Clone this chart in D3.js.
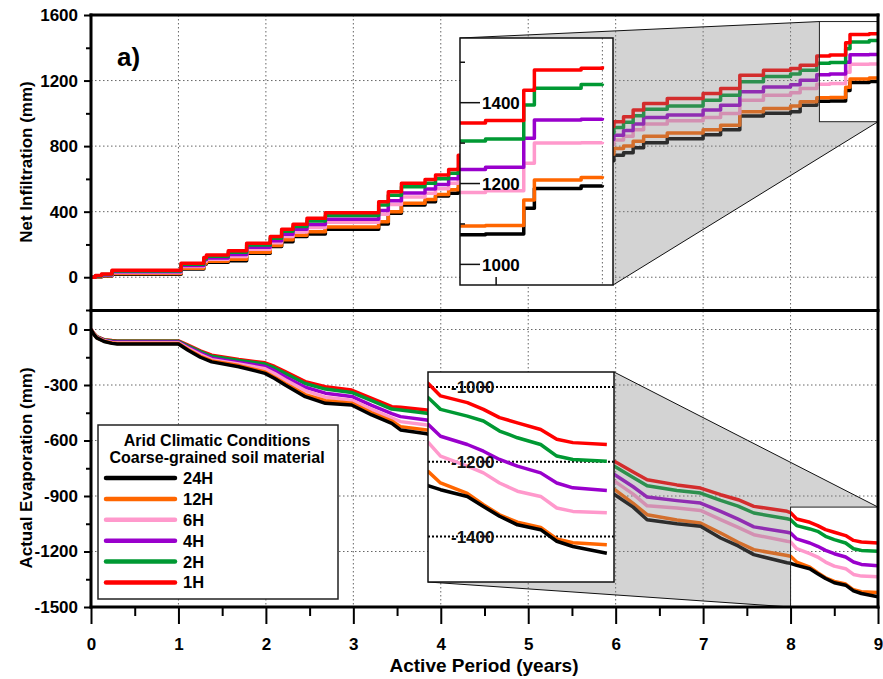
<!DOCTYPE html>
<html>
<head>
<meta charset="utf-8">
<script src="https://cdn.jsdelivr.net/npm/d3@7"></script>
<style>
  body { margin: 0; background: #fff; }
  text { font-family: "Liberation Sans", Arial, sans-serif; font-weight: bold; }
</style>
</head>
<body>
<div id="chart"></div>
<script>
// series, legend order
const seriesNames = ["24H", "12H", "6H", "4H", "2H", "1H"]
const seriesColors = ["#000000", "#ff6600", "#ff99cc", "#9900cc", "#009933", "#ff0000"]

// net infiltration (mm)
const infTime = [0, 0.05, 0.12, 0.24, 1.03, 1.29, 1.32, 1.57, 1.78, 2.05, 2.18, 2.31, 2.47, 2.68, 3.29, 3.40, 3.55, 3.82, 3.94, 4.09, 4.2, 4.5, 4.75, 5.0, 5.3, 5.6, 5.98, 6.09, 6.2, 6.32, 6.59, 7.0, 7.2, 7.42, 7.69, 8.0, 8.11, 8.3, 8.45, 8.63, 8.68, 8.9, 9.0]
const inf24H = [0, 2, 7, 18, 50, 80, 92, 101, 146, 187, 217, 248, 264, 292, 325, 390, 441, 461, 495, 512, 544, 580, 610, 640, 680, 710, 745, 760, 790, 820, 845, 870, 900, 983, 1000, 1010, 1050, 1073, 1075, 1139, 1188, 1194, 1196]
const inf12H = [0, 3, 9, 22, 55, 86, 98, 110, 152, 193, 228, 256, 278, 306, 338, 400, 452, 474, 504, 533, 574, 620, 650, 680, 715, 750, 786, 800, 830, 860, 880, 900, 928, 1009, 1030, 1045, 1070, 1095, 1096, 1159, 1209, 1215, 1218]
const inf6H = [0, 5, 12, 29, 65, 98, 110, 127, 170, 210, 248, 276, 303, 336, 384, 444, 490, 512, 540, 573, 605, 660, 705, 740, 775, 810, 837, 860, 900, 935, 955, 975, 999, 1080, 1110, 1125, 1152, 1178, 1182, 1250, 1300, 1301, 1303]
const inf4H = [0, 6, 14, 33, 71, 106, 118, 138, 183, 223, 262, 293, 322, 354, 407, 466, 514, 538, 566, 601, 635, 690, 735, 770, 805, 840, 867, 895, 935, 975, 990, 1020, 1050, 1131, 1160, 1175, 1202, 1235, 1240, 1312, 1357, 1359, 1362]
const inf2H = [0, 8, 17, 38, 79, 113, 128, 152, 197, 238, 280, 310, 343, 377, 440, 500, 552, 574, 601, 635, 666, 720, 765, 800, 840, 880, 914, 945, 985, 1025, 1045, 1080, 1111, 1192, 1225, 1240, 1263, 1305, 1310, 1394, 1436, 1445, 1447]
const inf1H = [0, 10, 20, 42, 85, 120, 136, 162, 207, 248, 292, 323, 360, 394, 461, 522, 573, 596, 623, 658, 745, 790, 830, 860, 890, 920, 948, 979, 1020, 1060, 1091, 1121, 1152, 1233, 1263, 1273, 1294, 1350, 1356, 1431, 1481, 1485, 1490]

// actual evaporation (mm)
const evTime = [0, 0.03, 0.065, 0.15, 0.24, 0.3, 1.0, 1.11, 1.25, 1.38, 1.69, 1.99, 2.1, 2.22, 2.45, 2.68, 2.98, 3.21, 3.44, 3.54, 3.84, 4.3, 4.8, 5.3, 5.99, 6.2, 6.36, 6.7, 6.97, 7.2, 7.4, 7.58, 7.96, 8.0, 8.07, 8.22, 8.31, 8.4, 8.5, 8.63, 8.72, 8.81, 9.0]
const ev24H = [0, -25, -45, -65, -75, -78, -78, -112, -150, -175, -201, -237, -265, -300, -363, -399, -408, -462, -507, -543, -564, -640, -720, -800, -893, -960, -1028, -1050, -1064, -1127, -1170, -1217, -1261, -1264, -1275, -1293, -1320, -1346, -1369, -1382, -1413, -1427, -1445]
const ev12H = [0, -24, -44, -63, -73, -76, -76, -108, -145, -170, -195, -230, -258, -292, -352, -385, -398, -450, -495, -525, -543, -615, -695, -775, -866, -940, -1001, -1030, -1046, -1100, -1150, -1190, -1222, -1226, -1257, -1285, -1315, -1342, -1362, -1376, -1407, -1417, -1422]
const ev6H = [0, -23, -42, -61, -70, -72, -72, -102, -136, -163, -187, -212, -238, -272, -330, -366, -382, -432, -478, -498, -516, -590, -665, -740, -821, -890, -953, -965, -978, -1028, -1070, -1109, -1145, -1148, -1185, -1212, -1230, -1257, -1279, -1293, -1324, -1333, -1337]
const ev4H = [0, -22, -41, -59, -66, -68, -68, -96, -128, -155, -178, -200, -224, -256, -312, -344, -362, -410, -455, -471, -489, -560, -635, -705, -785, -850, -906, -925, -938, -983, -1025, -1067, -1096, -1100, -1132, -1154, -1172, -1194, -1212, -1230, -1257, -1270, -1277]
const ev2H = [0, -21, -39, -57, -62, -64, -64, -89, -120, -145, -168, -187, -208, -237, -292, -322, -340, -385, -430, -435, -453, -520, -595, -665, -741, -800, -845, -870, -884, -924, -955, -992, -1023, -1028, -1060, -1078, -1091, -1118, -1136, -1154, -1185, -1194, -1199]
const ev1H = [0, -20, -38, -55, -60, -62, -62, -85, -115, -139, -162, -180, -200, -228, -282, -309, -327, -372, -417, -420, -435, -500, -570, -640, -714, -770, -812, -840, -857, -893, -920, -956, -983, -990, -1024, -1042, -1060, -1082, -1096, -1114, -1140, -1149, -1154]

// ticks
const xMajor = [0, 1, 2, 3, 4, 5, 6, 7, 8, 9]
const xMinor = [0.5, 1.5, 2.5, 3.5, 4.5, 5.5, 6.5, 7.5, 8.5]
const topMajor = [0, 400, 800, 1200, 1600]
const topMinor = [-200, 200, 600, 1000, 1400]
const botMajor = [-1500, -1200, -900, -600, -300, 0]
const botMinor = [-1350, -1050, -750, -450, -150]
const topInsetMajor = [1000, 1200, 1400]
const topInsetMinor = [1100, 1300, 1500]
const botInsetGrid = [-1000, -1200, -1400]

const infSeries = [inf24H, inf12H, inf6H, inf4H, inf2H, inf1H]
const evSeries = [ev24H, ev12H, ev6H, ev4H, ev2H, ev1H]

var width = 883,
  height = 679

var svg = d3.select("#chart").append("svg")
  .attr("width", width)
  .attr("height", height)

svg.append("rect")
  .attr("width", width)
  .attr("height", height)
  .attr("fill", "#fff")

var x = d3.scaleLinear().domain([0, 9]).range([91, 878])
var yTop = d3.scaleLinear().domain([-200, 1600]).range([310, 15])
var yBot = d3.scaleLinear().domain([-1500, 100]).range([607, 311])

// inset boxes and their zoom windows
var topBox = { x: 460, y: 38, w: 153, h: 247 }
var topInX = d3.scaleLinear().domain([8.33, 9.05]).range([topBox.x, topBox.x + topBox.w])
var topInY = d3.scaleLinear().domain([949, 1560]).range([topBox.y + topBox.h, topBox.y])

var botBox = { x: 428, y: 372, w: 186, h: 210 }
var botInX = d3.scaleLinear().domain([8.0, 9.04]).range([botBox.x, botBox.x + botBox.w])
var botInY = d3.scaleLinear().domain([-1522, -960]).range([botBox.y + botBox.h, botBox.y])

var defs = svg.append("defs")
function addClip(id, b) {
  defs.append("clipPath").attr("id", id)
    .append("rect")
    .attr("x", b.x).attr("y", b.y)
    .attr("width", b.w).attr("height", b.h)
}
addClip("clipTop", { x: 91, y: 15, w: 787, h: 295 })
addClip("clipBot", { x: 91, y: 311, w: 787, h: 296 })
addClip("clipTopInset", topBox)
addClip("clipBotInset", botBox)

function lineFor(xs, ys, times, curve) {
  return d3.line()
    .x((d, i) => xs(times[i]))
    .y(d => ys(d))
    .curve(curve)
}

function drawLines(g, xs, ys, times, list, curve, order, w) {
  order.forEach(k => {
    g.append("path")
      .datum(list[k])
      .attr("d", lineFor(xs, ys, times, curve))
      .attr("fill", "none")
      .attr("stroke", seriesColors[k])
      .attr("stroke-width", w)
      .attr("stroke-linejoin", "round")
  })
}

// grid
var grid = svg.append("g")
  .attr("stroke", "#666")
  .attr("stroke-width", 1)
  .attr("stroke-dasharray", "1.5,2.5")

xMajor.slice(1, 9).forEach(t => {
  grid.append("line").attr("x1", x(t)).attr("x2", x(t)).attr("y1", 15).attr("y2", 310)
  grid.append("line").attr("x1", x(t)).attr("x2", x(t)).attr("y1", 311).attr("y2", 607)
})
topMajor.slice(0, 4).forEach(v => {
  grid.append("line").attr("x1", 91).attr("x2", 878).attr("y1", yTop(v)).attr("y2", yTop(v))
})
botMajor.slice(1).forEach(v => {
  grid.append("line").attr("x1", 91).attr("x2", 878).attr("y1", yBot(v)).attr("y2", yBot(v))
})

// main series
var gTop = svg.append("g").attr("clip-path", "url(#clipTop)")
drawLines(gTop, x, yTop, infTime, infSeries, d3.curveStepAfter, [0, 1, 2, 3, 4, 5], 3.5)

var gBot = svg.append("g").attr("clip-path", "url(#clipBot)")
drawLines(gBot, x, yBot, evTime, evSeries, d3.curveLinear, [5, 4, 3, 2, 1, 0], 3.5)

// grey zoom funnels
function funnel(outer, src, links) {
  var p = d3.path()
  outer.forEach((pt, i) => i ? p.lineTo(pt[0], pt[1]) : p.moveTo(pt[0], pt[1]))
  p.closePath()
  p.rect(src.x, src.y, src.w, src.h)
  svg.append("path")
    .attr("d", p.toString())
    .attr("fill", "#808080")
    .attr("fill-opacity", 0.35)
    .attr("fill-rule", "evenodd")
  svg.append("rect")
    .attr("x", src.x).attr("y", src.y)
    .attr("width", src.w).attr("height", src.h)
    .attr("fill", "none")
    .attr("stroke", "#222")
    .attr("stroke-width", 1)
  links.forEach(l => {
    svg.append("line")
      .attr("x1", l[0][0]).attr("y1", l[0][1])
      .attr("x2", l[1][0]).attr("y2", l[1][1])
      .attr("stroke", "#111")
      .attr("stroke-width", 1)
  })
}

var tSrc = {
  x: x(topInX.domain()[0]),
  y: yTop(topInY.domain()[1]),
  w: 878 - x(topInX.domain()[0]),
  h: yTop(topInY.domain()[0]) - yTop(topInY.domain()[1])
}
funnel(
  [[topBox.x, topBox.y], [tSrc.x, tSrc.y], [878, tSrc.y], [878, tSrc.y + tSrc.h],
   [topBox.x + topBox.w, topBox.y + topBox.h], [topBox.x, topBox.y + topBox.h]],
  tSrc,
  [[[topBox.x, topBox.y], [tSrc.x, tSrc.y]],
   [[topBox.x + topBox.w, topBox.y + topBox.h], [878, tSrc.y + tSrc.h]]]
)

var bSrcTop = yBot(botInY.domain()[1])
var bSrc = {
  x: x(botInX.domain()[0]),
  y: bSrcTop,
  w: 878 - x(botInX.domain()[0]),
  h: 607 - bSrcTop
}
funnel(
  [[botBox.x, botBox.y], [botBox.x + botBox.w, botBox.y], [878, bSrc.y], [878, 607],
   [bSrc.x, 607], [botBox.x, botBox.y + botBox.h]],
  bSrc,
  [[[botBox.x + botBox.w, botBox.y], [878, bSrc.y]],
   [[botBox.x, botBox.y + botBox.h], [bSrc.x, 607]]]
)

// top inset
svg.append("rect")
  .attr("x", topBox.x).attr("y", topBox.y)
  .attr("width", topBox.w).attr("height", topBox.h)
  .attr("fill", "#fff")
svg.append("line")
  .attr("x1", topInX(9)).attr("x2", topInX(9))
  .attr("y1", topBox.y).attr("y2", topBox.y + topBox.h)
  .attr("stroke", "#666").attr("stroke-dasharray", "1.5,2.5")
var gTopIn = svg.append("g").attr("clip-path", "url(#clipTopInset)")
drawLines(gTopIn, topInX, topInY, infTime, infSeries, d3.curveStepAfter, [0, 1, 2, 3, 4, 5], 3.5)
svg.append("rect")
  .attr("x", topBox.x).attr("y", topBox.y)
  .attr("width", topBox.w).attr("height", topBox.h)
  .attr("fill", "none").attr("stroke", "#111").attr("stroke-width", 1.5)
topInsetMajor.forEach(v => {
  svg.append("line")
    .attr("x1", topBox.x).attr("x2", topBox.x + 20)
    .attr("y1", topInY(v)).attr("y2", topInY(v))
    .attr("stroke", "#111").attr("stroke-width", 1.5)
  svg.append("text")
    .attr("x", topBox.x + 22).attr("y", topInY(v))
    .attr("dy", "0.36em")
    .attr("font-size", 17)
    .text(v)
})
topInsetMinor.forEach(v => {
  svg.append("line")
    .attr("x1", topBox.x).attr("x2", topBox.x + 5)
    .attr("y1", topInY(v)).attr("y2", topInY(v))
    .attr("stroke", "#111").attr("stroke-width", 1.5)
})
svg.append("line")
  .attr("x1", topInX(8.5)).attr("x2", topInX(8.5))
  .attr("y1", topBox.y + topBox.h).attr("y2", topBox.y + topBox.h - 8)
  .attr("stroke", "#111").attr("stroke-width", 1.5)

// bottom inset
svg.append("rect")
  .attr("x", botBox.x).attr("y", botBox.y)
  .attr("width", botBox.w).attr("height", botBox.h)
  .attr("fill", "#fff")
botInsetGrid.forEach(v => {
  svg.append("line")
    .attr("x1", botBox.x).attr("x2", botBox.x + botBox.w)
    .attr("y1", botInY(v)).attr("y2", botInY(v))
    .attr("stroke", "#000").attr("stroke-width", 2)
    .attr("stroke-dasharray", "2,2")
})
var gBotIn = svg.append("g").attr("clip-path", "url(#clipBotInset)")
drawLines(gBotIn, botInX, botInY, evTime, evSeries, d3.curveLinear, [5, 4, 3, 2, 1, 0], 3.5)
botInsetGrid.forEach(v => {
  svg.append("text")
    .attr("x", botBox.x + 23).attr("y", botInY(v))
    .attr("dy", "0.36em")
    .attr("font-size", 17)
    .attr("fill", "#111")
    .text(v)
})
svg.append("rect")
  .attr("x", botBox.x).attr("y", botBox.y)
  .attr("width", botBox.w).attr("height", botBox.h)
  .attr("fill", "none").attr("stroke", "#111").attr("stroke-width", 1.5)

// axes
function styleAxis(g) {
  g.select(".domain").remove()
  g.selectAll(".tick line").attr("stroke", "#000").attr("stroke-width", 2)
  g.selectAll("text")
    .attr("font-size", 17)
    .attr("font-family", "'Liberation Sans', Arial, sans-serif")
    .attr("font-weight", "bold")
    .attr("fill", "#000")
}

svg.append("g").attr("transform", "translate(91,0)")
  .call(d3.axisLeft(yTop).tickValues(topMajor).tickSize(7).tickPadding(6).tickFormat(d => String(d)))
  .call(styleAxis)
svg.append("g").attr("transform", "translate(91,0)")
  .call(d3.axisLeft(yTop).tickValues(topMinor).tickSize(5).tickFormat(""))
  .call(styleAxis)
svg.append("g").attr("transform", "translate(91,0)")
  .call(d3.axisLeft(yBot).tickValues(botMajor).tickSize(7).tickPadding(6).tickFormat(d => String(d)))
  .call(styleAxis)
svg.append("g").attr("transform", "translate(91,0)")
  .call(d3.axisLeft(yBot).tickValues(botMinor).tickSize(5).tickFormat(""))
  .call(styleAxis)
svg.append("g").attr("transform", "translate(0,607)")
  .call(d3.axisBottom(x).tickValues(xMajor).tickSize(17).tickPadding(14).tickFormat(d => String(d)))
  .call(styleAxis)
svg.append("g").attr("transform", "translate(0,607)")
  .call(d3.axisBottom(x).tickValues(xMinor).tickSize(9).tickFormat(""))
  .call(styleAxis)

// frame
var frame = svg.append("g").attr("stroke", "#000").attr("stroke-width", 3).attr("stroke-linecap", "square")
frame.append("line").attr("x1", 91).attr("x2", 878).attr("y1", 15).attr("y2", 15)
frame.append("line").attr("x1", 91).attr("x2", 878).attr("y1", 310.5).attr("y2", 310.5)
frame.append("line").attr("x1", 91).attr("x2", 878).attr("y1", 607).attr("y2", 607)
frame.append("line").attr("x1", 91).attr("x2", 91).attr("y1", 15).attr("y2", 607)
frame.append("line").attr("x1", 878).attr("x2", 878).attr("y1", 15).attr("y2", 607)

// titles
svg.append("text")
  .attr("transform", "translate(32,162) rotate(-90)")
  .attr("text-anchor", "middle")
  .attr("font-size", 17)
  .text("Net Infiltration (mm)")
svg.append("text")
  .attr("transform", "translate(32,468) rotate(-90)")
  .attr("text-anchor", "middle")
  .attr("font-size", 17)
  .text("Actual Evaporation (mm)")
svg.append("text")
  .attr("x", 484).attr("y", 672)
  .attr("text-anchor", "middle")
  .attr("font-size", 19)
  .text("Active Period (years)")
svg.append("text")
  .attr("x", 117).attr("y", 66)
  .attr("font-size", 26)
  .text("a)")

// legend
var legend = svg.append("g")
legend.append("rect")
  .attr("x", 98).attr("y", 425)
  .attr("width", 240).attr("height", 174)
  .attr("fill", "#fff")
  .attr("stroke", "#222").attr("stroke-width", 1.5)
legend.append("text")
  .attr("x", 217).attr("y", 446)
  .attr("text-anchor", "middle").attr("font-size", 16)
  .text("Arid Climatic Conditions")
legend.append("text")
  .attr("x", 217).attr("y", 463)
  .attr("text-anchor", "middle").attr("font-size", 16)
  .text("Coarse-grained soil material")
seriesNames.forEach((name, i) => {
  var ly = 478 + i * 20.9
  legend.append("line")
    .attr("x1", 106).attr("x2", 175)
    .attr("y1", ly).attr("y2", ly)
    .attr("stroke", seriesColors[i])
    .attr("stroke-width", 4.5)
    .attr("stroke-linecap", "round")
  legend.append("text")
    .attr("x", 183).attr("y", ly)
    .attr("dy", "0.36em")
    .attr("font-size", 16.5)
    .text(name)
})
</script>
</body>
</html>
